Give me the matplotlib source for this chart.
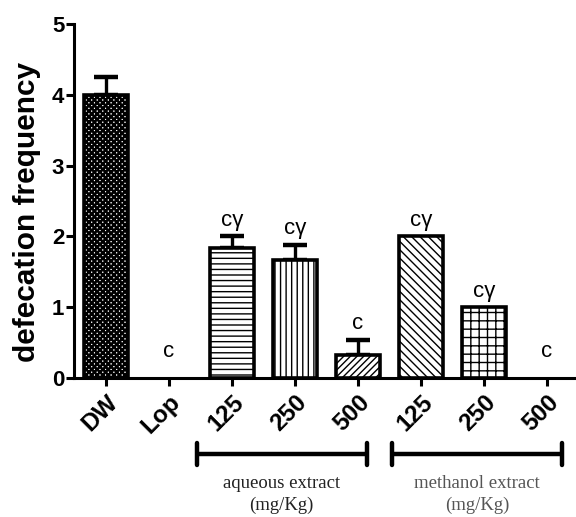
import matplotlib
matplotlib.use("Agg")
import matplotlib.pyplot as plt
import matplotlib.transforms as mtransforms

# data
groups = ["DW", "Lop", "125", "250", "500", "125", "250", "500"]
means = [4.0, 0.0, 1.83, 1.67, 0.33, 2.0, 1.0, 0.0]
sem = [0.25, 0.0, 0.17, 0.21, 0.21, 0.0, 0.0, 0.0]
letters = ["", "c", "c\u03b3", "c\u03b3", "c", "c\u03b3", "c\u03b3", "c"]
hatches = ["xxxxxx", "", "---", "|||", "/////", "\\\\\\\\", "++", ""]
hatch_lw = [1.8, 1.0, 1.0, 1.0, 1.0, 1.0, 1.0, 1.0]

plt.rcParams["font.family"] = ["Liberation Sans", "DejaVu Sans"]

fig = plt.figure(figsize=(5.76, 5.17), dpi=100)
ax = fig.add_axes([0.1285, 0.2689, 0.8715, 0.6847])

x = list(range(len(groups)))
for i in x:
    if means[i] > 0:
        with plt.rc_context({"hatch.linewidth": hatch_lw[i]}):
            ax.bar(i, means[i], width=0.7, color="white", edgecolor="black",
                   linewidth=2.6, hatch=hatches[i], zorder=2)
        if sem[i] > 0:
            ax.errorbar(i, means[i], yerr=[[0], [sem[i]]], fmt="none",
                        ecolor="black", elinewidth=2.4, capsize=8.5,
                        capthick=3.2, zorder=1)
    top = means[i] + sem[i] + 0.08 if means[i] > 0 else 0.22
    if letters[i]:
        ax.text(i, top, letters[i], ha="center", va="bottom", fontsize=16)

ax.set_xlim(-0.508, 7.46)
ax.set_ylim(0, 5)
ax.set_yticks([0, 1, 2, 3, 4, 5])
ax.set_xticks(x)
ax.set_xticklabels(groups, rotation=45, ha="right", rotation_mode="anchor",
                   fontsize=17.5, fontweight="bold")
for lab in ax.get_yticklabels():
    lab.set_fontweight("bold")
    lab.set_fontsize(16)
ax.set_ylabel("defecation frequency", fontsize=21.5, fontweight="bold")
ax.yaxis.set_label_coords(-0.066, 0.47)

for s in ["top", "right"]:
    ax.spines[s].set_visible(False)
for s in ["left", "bottom"]:
    ax.spines[s].set_linewidth(2.2)
ax.tick_params(axis="both", width=2.2, length=6, direction="out", pad=1)
ax.tick_params(axis="x", pad=3)

# group brackets below the axis
trans = mtransforms.blended_transform_factory(ax.transData, ax.transAxes)
brackets = [(1.44, 4.14, "aqueous extract", "#222222"),
            (4.54, 7.24, "methanol extract", "#555555")]
for x0, x1, name, col in brackets:
    ax.plot([x0, x1], [-0.215, -0.215], color="black", lw=3.2,
            transform=trans, clip_on=False, solid_capstyle="butt")
    for xe in (x0, x1):
        ax.plot([xe, xe], [-0.184, -0.246], color="black", lw=3.2,
                transform=trans, clip_on=False, solid_capstyle="round")
    xc = (x0 + x1) / 2
    ax.text(xc, -0.297, name, transform=trans, ha="center", va="center",
            fontsize=13.5, family="Liberation Serif", color=col)
    ax.text(xc, -0.359, "(mg/Kg)", transform=trans, ha="center", va="center",
            fontsize=13.5, family="Liberation Serif", color=col)

fig.savefig("out.png", dpi=100)
